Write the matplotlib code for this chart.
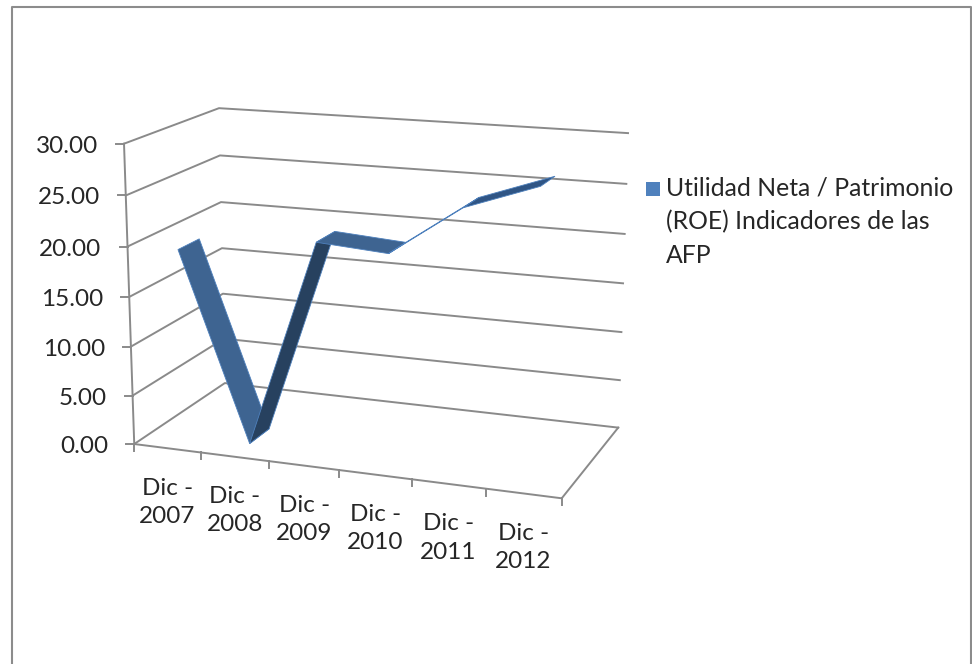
import numpy as np
import matplotlib.pyplot as plt
from matplotlib.patches import Polygon, Rectangle

# data
categories = ['Dic -\n2007', 'Dic -\n2008', 'Dic -\n2009', 'Dic -\n2010', 'Dic -\n2011', 'Dic -\n2012']
values = [19.2, 0.2, 21.1, 20.6, 25.5, 28.0]
y_ticks = [0, 5, 10, 15, 20, 25, 30]
y_max = 30.0
legend_text = 'Utilidad Neta / Patrimonio\n(ROE) Indicadores de las\nAFP'

# corners of the 3D box: (x, value share, depth) -> picture pixel
box_world = [(0, 0, 0), (0, 1, 0), (0, 0, 1), (0, 1, 1), (1, 0, 1), (1, 1, 1), (1, 0, 0)]
box_pixel = [(134, 444), (124, 144), (225, 383), (219, 108), (618, 428), (628, 133), (562, 498)]

# solve the projection matrix from the corners
rows = []
for (x, y, z), (u, v) in zip(box_world, box_pixel):
    rows.append([x, y, z, 1, 0, 0, 0, 0, -u * x, -u * y, -u * z, -u])
    rows.append([0, 0, 0, 0, x, y, z, 1, -v * x, -v * y, -v * z, -v])
P = np.linalg.svd(np.array(rows, dtype=float))[2][-1].reshape(3, 4)


def project(x, y, z):
    p = P @ np.array([x, y, z, 1.0])
    return p[0] / p[2], p[1] / p[2]


plt.rcParams['font.family'] = ['Lato', 'DejaVu Sans']
fig = plt.figure(figsize=(9.72, 6.64), dpi=100)
ax = fig.add_axes([0, 0, 1, 1])
ax.set_xlim(0, 972)
ax.set_ylim(664, 0)
ax.axis('off')

# outer frame, open at the bottom
ax.plot([11.5, 11.5, 970.5, 970.5], [664, 7, 7, 664], color='#8c8c8c', lw=1.5)

grid_c = '#8a8a8a'
grid_w = 1.4
text_c = '#262626'
n = len(categories)

# gridlines on the side wall and back wall
for t in y_ticks:
    s = t / y_max
    pts = [project(0, s, 0), project(0, s, 1), project(1, s, 1)]
    ax.plot([p[0] for p in pts], [p[1] for p in pts], color=grid_c, lw=grid_w)
    # value axis tick and label
    u, v = project(0, s, 0)
    ax.plot([u - 8, u], [v, v], color=grid_c, lw=grid_w)
    ax.text(u - 26, v + 2.5, f'{t:.2f}', ha='right', va='center', fontsize=17.5, color=text_c)

# value axis and floor
pts = [project(0, 1, 0), project(0, 0, 0), project(1, 0, 0), project(1, 0, 1)]
ax.plot([p[0] for p in pts], [p[1] for p in pts], color=grid_c, lw=grid_w)

# category ticks and labels
for i in range(n + 1):
    u, v = project(i / n, 0, 0)
    ax.plot([u, u], [v, v + 7], color=grid_c, lw=grid_w)
for i, lab in enumerate(categories):
    u, v = project((i + 0.5) / n, 0, 0)
    ax.text(u, v + 54, lab, ha='center', va='center', fontsize=17.5, color=text_c, linespacing=1.43)

# the ribbon, one face per segment
z_front, z_back = 0.165, 0.39
face_colors = ['#3e6491', '#27415f', '#3e6491', '#4f81bd', '#2f5585']
for i in range(n - 1):
    x0 = (i + 0.5) / n
    x1 = (i + 1.5) / n
    y0 = values[i] / y_max
    y1 = values[i + 1] / y_max
    quad = [project(x0, y0, z_front), project(x0, y0, z_back), project(x1, y1, z_back), project(x1, y1, z_front)]
    ax.add_patch(Polygon(quad, closed=True, facecolor=face_colors[i], edgecolor='#4f81bd', lw=0.6, zorder=3 + i))

# legend
ax.add_patch(Rectangle((646, 182), 14, 14, facecolor='#4f81bd', edgecolor='none'))
ax.text(666, 222, legend_text, ha='left', va='center', fontsize=17.8, color=text_c, linespacing=1.55)

fig.savefig('out.png', dpi=100)
